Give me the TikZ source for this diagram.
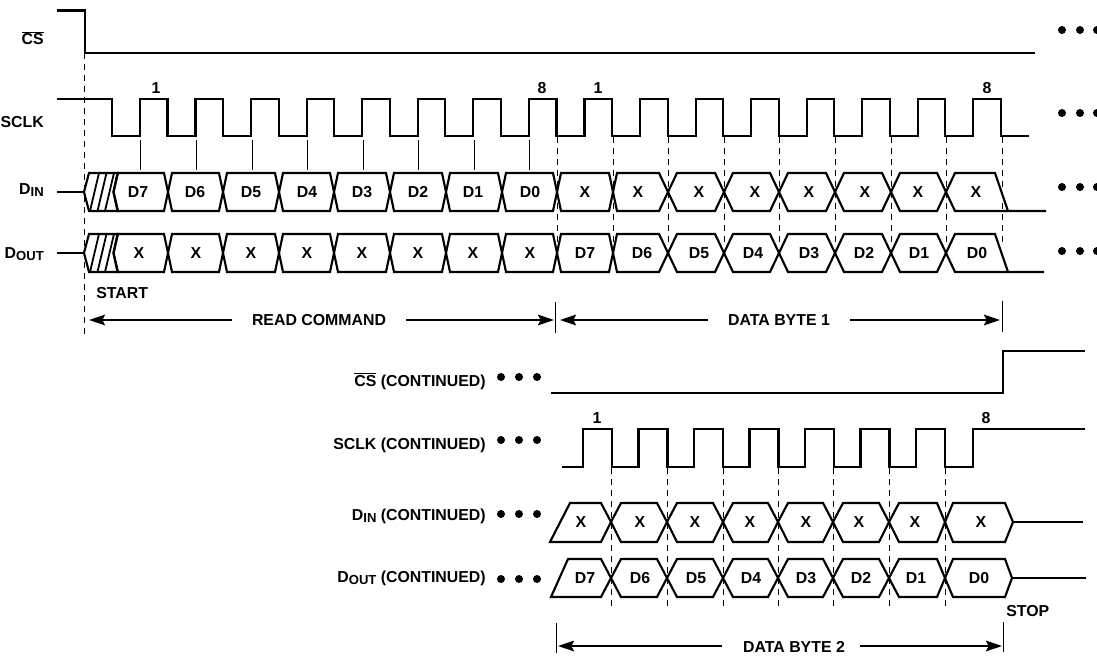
\documentclass[tikz,border=0pt]{standalone}
\usepackage{fontspec}
\setmainfont{Liberation Sans}
\usetikzlibrary{arrows.meta}
\newcommand\subt[1]{\raisebox{-0.28ex}{\fontsize{9.8}{10}\selectfont #1}}
\newcommand\barred[1]{$\overline{\mbox{#1}}$}
\tikzset{
  wave/.style={line width=1.6pt,line join=miter},
  thin tick/.style={line width=0.75pt},
  guide/.style={line width=0.75pt,dash pattern=on 4.5pt off 3.75pt},
  lbl/.style={font=\fontsize{11.9}{12}\bfseries\selectfont,inner sep=0pt,text=black},
  lbr/.style={lbl,anchor=east},
  dim/.style={line width=1.4pt,-{Stealth[length=12pt,width=8pt,inset=2pt]}},
  dotm/.style={fill=black,draw=none,circle,minimum size=6pt,inner sep=0pt},
}
\newcommand\toplist{113.5/4/168/4,168/4/223/4,223/4/279/4,279/4/334/4,334/4/390/4,390/4/446/4,446/4/502/4,502/4/557/4,557/4/613/4,613/4/668/9,668/9/724/9,724/9/779/9,779/9/835/9,835/9/891/9,891/9/946/9}
\newcommand\botlist{611/10/667/10,667/10/723/10,723/10/778/10,778/10/833/10,833/10/889/10,889/10/945/8}
% hexagon row: #1 top, #2 mid, #3 bottom, #4 list
\newcommand\hexrow[4]{\foreach \a/\ha/\b/\hb in #4 {
  \draw[wave] (\a,#2) -- ({\a+\ha},#1) -- ({\b-\hb},#1) -- (\b,#2) -- ({\b-\hb},#3) -- ({\a+\ha},#3) -- cycle;}}
% hatched start: #1 top, #2 mid, #3 bottom
\newcommand\hatchstart[3]{
  \draw[wave] (84,#2) -- (89,#1) -- (118,#1) -- (113.5,#2) -- (118,#3) -- (89,#3) -- cycle;
  \draw[line width=1.35pt] (90,#3) -- (99,#1) (97.5,#3) -- (106.5,#1) (105,#3) -- (114,#1);
}
\begin{document}
\begin{tikzpicture}[x=0.75pt,y=-0.75pt]
\useasboundingbox (0,0) rectangle (1097,656);
% guides
\draw[guide] (84,53) -- (84,338);
\foreach \x in {557,613,668,724,779,835,891,946,1002} \draw[guide] (\x,137) -- (\x,246);
\foreach \x in {611,667,723,778,833,889,945} \draw[guide] (\x,468) -- (\x,610);
\foreach \x in {140,196,252,307,363,418,474,529} \draw[thin tick] (\x,140) -- (\x,170);
% CS
\draw[wave] (57,10.5) -- (85,10.5) -- (85,53) -- (1035,53);
% SCLK
\draw[wave] (57,99) foreach \k in {0,...,16} { -- ({112+55.56*\k},99) -- ({112+55.56*\k},136) -- ({140+55.56*\k},136) \ifnum\k<16 -- ({140+55.56*\k},99)\fi } ;
\draw[wave] (1002,136) -- (1029,136);
% D rows
\draw[wave] (57,192) -- (84,192);
\draw[wave] (57,253) -- (84,253);
\hatchstart{173}{192}{211}
\hatchstart{234}{253}{272}
\hexrow{173}{192}{211}{\toplist}
\hexrow{234}{253}{272}{\toplist}
\draw[wave] (1046,211) -- (955,211) -- (946,192) -- (955,173) -- (995,173) -- (1008,211);
\draw[wave] (1044,272) -- (955,272) -- (946,253) -- (955,234) -- (995,234) -- (1008,272);
% cell labels top
\foreach \x/\t in {138/D7,195/D6,251/D5,307/D4,362/D3,418/D2,473/D1,530/D0,585/X,638/X,699/X,755/X,809/X,865/X,918/X,976/X}
  \node[lbl] (in\x) at (\x,192) {\t};
\foreach \x/\t in {139/X,196/X,251/X,307/X,362/X,418/X,473/X,530/X,585/D7,642/D6,699/D5,753/D4,809/D3,864/D2,919/D1,977/D0}
  \node[lbl] (out\x) at (\x,253) {\t};
% clock numbers
\node[lbl] (n1a) at (156,88) {1};
\node[lbl] (n8a) at (542,88) {8};
\node[lbl] (n1b) at (598,88) {1};
\node[lbl] (n8b) at (987,88) {8};
% left labels
\node[lbr] (lcs) at (44,38) {\barred{CS}};
\node[lbr] (lsclk) at (44,122) {SCLK};
\node[lbr] (ldin) at (44,190) {D\subt{IN}};
\node[lbr] (ldout) at (44,254) {D\subt{OUT}};
\node[lbl,anchor=west] (start) at (96,293) {START};
% dots
\foreach \y in {30,113,187,251} \foreach \x in {1062,1080,1097} \node[dotm] at (\x,\y) {};
\foreach \y in {377,440,514,579} \foreach \x in {501,519,537} \node[dotm] at (\x,\y) {};
% dimension top
\coordinate (rl) at (89,320); \coordinate (rr) at (554,320);
\coordinate (dl) at (560,320); \coordinate (dr) at (1000,320);
\node[lbl] (read) at (319,320) {READ COMMAND};
\node[lbl] (byte1) at (779,320) {DATA BYTE 1};
\draw[dim] (232,320) -- (rl);
\draw[dim] (406,320) -- (rr);
\draw[dim] (708,320) -- (dl);
\draw[dim] (850,320) -- (dr);
\draw[thin tick] (555.5,302) -- (555.5,333);
\draw[thin tick] (1002,301) -- (1002,332);
% lower CS
\draw[wave] (551,393) -- (1003,393) -- (1003,351) -- (1085,351);
% lower SCLK
\draw[wave] (562,467) foreach \k in {0,...,6} { -- ({583+55.5*\k},467) -- ({583+55.5*\k},429) -- ({612+55.5*\k},429) -- ({612+55.5*\k},467) } -- (973,467) -- (973,429) -- (1085,429);
% lower D rows
\draw[wave] (550,542) -- (570,503) -- (601,503) -- (611,522) -- (601,542) -- cycle;
\draw[wave] (551,597) -- (568,559) -- (601,559) -- (611,578) -- (601,597) -- cycle;
\hexrow{503}{522}{542}{\botlist}
\hexrow{559}{578}{597}{\botlist}
\draw[wave] (945,522) -- (953,503) -- (1005,503) -- (1013,522) -- (1005,542) -- (953,542) -- cycle;
\draw[wave] (945,578) -- (953,559) -- (1005,559) -- (1012,578) -- (1005,597) -- (953,597) -- cycle;
\draw[wave] (1013,522) -- (1083,522);
\draw[wave] (1012,578) -- (1086,578);
\foreach \x in {581,640,695,750,806,859,915,981} \node[lbl] (xb\x) at (\x,522) {X};
\foreach \x/\t in {585/D7,640/D6,696/D5,751/D4,806/D3,861/D2,916/D1,979/D0} \node[lbl] (db\x) at (\x,578) {\t};
\node[lbl] (n1c) at (597,418) {1};
\node[lbl] (n8c) at (986,418) {8};
% lower labels
\node[lbr] (clcs) at (486,381) {\barred{CS} (CONTINUED)};
\node[lbr] (clsclk) at (486,445) {SCLK (CONTINUED)};
\node[lbr] (cldin) at (486,516) {D\subt{IN} (CONTINUED)};
\node[lbr] (cldout) at (486,578) {D\subt{OUT} (CONTINUED)};
\node[lbl,anchor=west] (stop) at (1006,611) {STOP};
% dimension bottom
\node[lbl] (byte2) at (794,647) {DATA BYTE 2};
\draw[dim] (722,646) -- (558,646);
\draw[dim] (860,646) -- (1002,646);
\draw[thin tick] (556,623) -- (556,653);
\draw[thin tick] (1003,622) -- (1003,652);
\end{tikzpicture}
\end{document}
